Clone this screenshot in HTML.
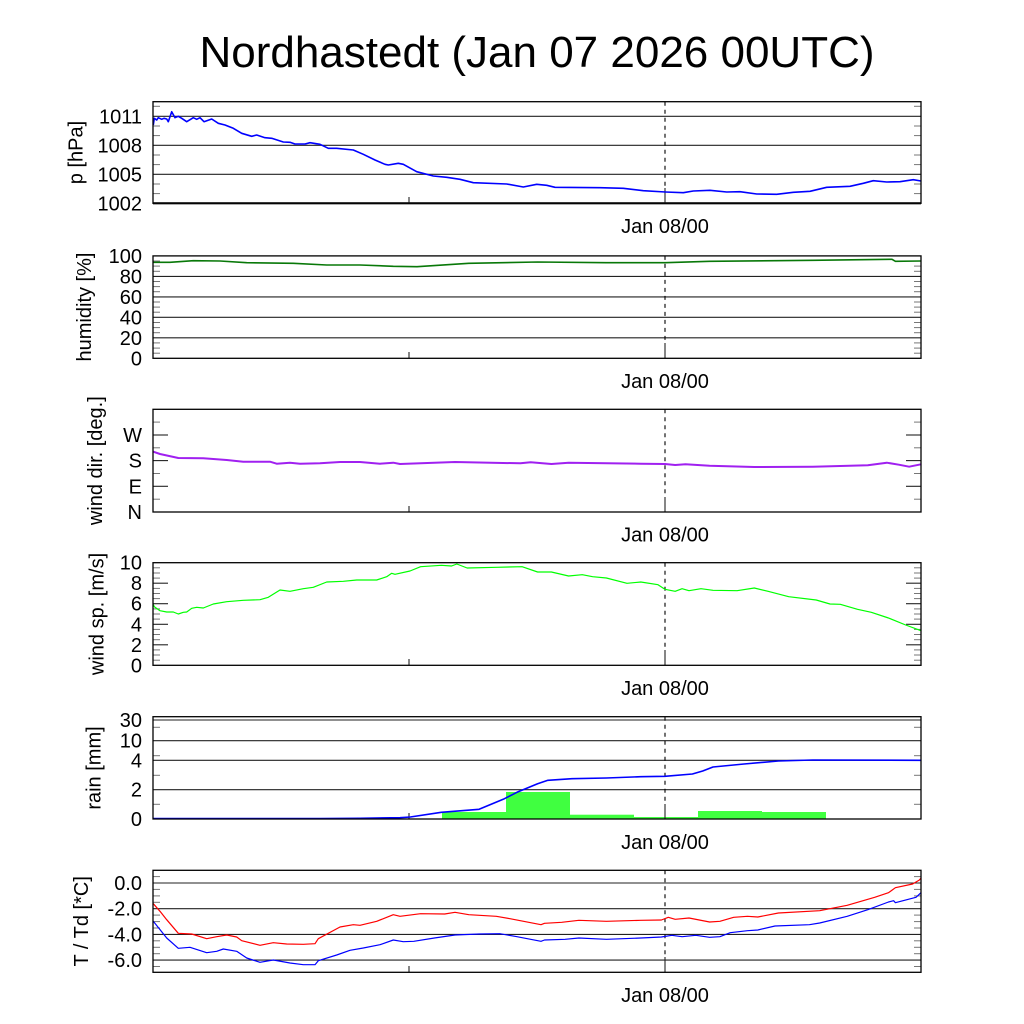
<!DOCTYPE html>
<html><head><meta charset="utf-8"><style>
html,body{margin:0;padding:0;background:#fff;}
svg{display:block;}
text{font-family:"Liberation Sans",Arial,sans-serif;fill:#000;}
.tl{font-size:20px;text-anchor:end;}
.yl{font-size:20px;text-anchor:middle;}
.dl{font-size:20px;text-anchor:middle;}
.bx{fill:none;stroke:#000;stroke-width:1.3;}
.gr{stroke:#222;stroke-width:1.1;}
.mj{stroke:#222;stroke-width:1.1;}
.mn{stroke:#777;stroke-width:1;}
.ds{stroke:#000;stroke-width:1.1;stroke-dasharray:4,4;}
.ln{fill:none;stroke-linejoin:round;}
</style></head><body>
<svg width="1024" height="1024" viewBox="0 0 1024 1024" xmlns="http://www.w3.org/2000/svg">
<rect width="1024" height="1024" fill="#fff"/>
<text x="537" y="67" style="font-size:44px;text-anchor:middle;">Nordhastedt (Jan 07 2026 00UTC)</text>

<!-- ===== Panel 1: pressure ===== -->
<g>
<line class="gr" x1="153" y1="174.3" x2="921" y2="174.3"/>
<line class="gr" x1="153" y1="145.3" x2="921" y2="145.3"/>
<line class="gr" x1="153" y1="116.3" x2="921" y2="116.3"/>
<line x1="153" y1="203.3" x2="921" y2="203.3" stroke="#555" stroke-width="2.5"/>
<g class="mn">
<line x1="153" y1="193.6" x2="160" y2="193.6"/><line x1="153" y1="184" x2="160" y2="184"/>
<line x1="153" y1="164.6" x2="160" y2="164.6"/><line x1="153" y1="155" x2="160" y2="155"/>
<line x1="153" y1="135.6" x2="160" y2="135.6"/><line x1="153" y1="126" x2="160" y2="126"/>
<line x1="153" y1="106.3" x2="160" y2="106.3"/>
<line x1="914" y1="193.6" x2="921" y2="193.6"/><line x1="914" y1="184" x2="921" y2="184"/>
<line x1="914" y1="164.6" x2="921" y2="164.6"/><line x1="914" y1="155" x2="921" y2="155"/>
<line x1="914" y1="135.6" x2="921" y2="135.6"/><line x1="914" y1="126" x2="921" y2="126"/>
<line x1="914" y1="106.3" x2="921" y2="106.3"/>
</g>
<line class="mj" x1="409" y1="203.3" x2="409" y2="197"/>
<line class="ds" x1="665" y1="101.7" x2="665" y2="188"/>
<line class="mj" x1="665" y1="188" x2="665" y2="203.3"/>
<polyline class="ln" stroke="#0000ff" stroke-width="1.6" points="153.3,125 154.3,118.3 156.7,120 158.3,117.7 161.7,119.3 164,118.3 166.7,119 168.3,121.7 171.7,111.7 175,117.7 178.3,116.3 181.7,118.3 186.7,121.7 193.3,117.7 196.7,119.3 200,117.7 204,121.7 211.7,119 218.3,123.3 225,125 233.3,128.3 241.7,133.3 251.7,136.3 256.7,135 265,137.7 271.7,138.3 283.3,142 290,142.3 295,144 305,144 310,142.7 320,144.3 328.3,148.3 336.7,148.3 353.3,150 363.3,154.3 375,160 385,164.3 388.3,165 398.3,163.3 403.3,164.3 416.7,171.7 433.3,176 446.7,177.3 460,179.3 473.3,182.7 506.7,184 523.3,187 536.7,184.3 546.7,185.3 555,187.3 600,187.7 623.3,188.3 643.3,190.7 665.3,192 683.3,192.7 693.3,191 710,190.3 726.7,192 740,191.7 756.7,194 776.7,194.3 793.3,192.3 810,191.3 826.7,187.3 850,186.3 863.3,183.3 873.3,180.7 886.7,182 900,181.7 913.3,179.7 921,181"/>
<rect class="bx" x="153" y="101.7" width="768" height="101.6"/>
<text class="tl" x="142" y="123.3">1011</text>
<text class="tl" x="142" y="152.3">1008</text>
<text class="tl" x="142" y="181.3">1005</text>
<text class="tl" x="142" y="210.3">1002</text>
<text class="yl" transform="translate(82.5,152.5) rotate(-90)">p [hPa]</text>
<text class="dl" x="665" y="233">Jan 08/00</text>
</g>

<!-- ===== Panel 2: humidity ===== -->
<g>
<line class="gr" x1="153" y1="276.4" x2="921" y2="276.4"/>
<line class="gr" x1="153" y1="296.9" x2="921" y2="296.9"/>
<line class="gr" x1="153" y1="317.3" x2="921" y2="317.3"/>
<line class="gr" x1="153" y1="337.8" x2="921" y2="337.8"/>
<g class="mn">
<line x1="153" y1="353.2" x2="160" y2="353.2"/><line x1="153" y1="348.1" x2="160" y2="348.1"/><line x1="153" y1="342.9" x2="160" y2="342.9"/>
<line x1="153" y1="332.7" x2="160" y2="332.7"/><line x1="153" y1="327.6" x2="160" y2="327.6"/><line x1="153" y1="322.5" x2="160" y2="322.5"/>
<line x1="153" y1="312.2" x2="160" y2="312.2"/><line x1="153" y1="307.1" x2="160" y2="307.1"/><line x1="153" y1="302" x2="160" y2="302"/>
<line x1="153" y1="291.7" x2="160" y2="291.7"/><line x1="153" y1="286.6" x2="160" y2="286.6"/><line x1="153" y1="281.5" x2="160" y2="281.5"/>
<line x1="153" y1="271.3" x2="160" y2="271.3"/><line x1="153" y1="266.1" x2="160" y2="266.1"/><line x1="153" y1="261" x2="160" y2="261"/>
<line x1="914" y1="353.2" x2="921" y2="353.2"/><line x1="914" y1="348.1" x2="921" y2="348.1"/><line x1="914" y1="342.9" x2="921" y2="342.9"/>
<line x1="914" y1="332.7" x2="921" y2="332.7"/><line x1="914" y1="327.6" x2="921" y2="327.6"/><line x1="914" y1="322.5" x2="921" y2="322.5"/>
<line x1="914" y1="312.2" x2="921" y2="312.2"/><line x1="914" y1="307.1" x2="921" y2="307.1"/><line x1="914" y1="302" x2="921" y2="302"/>
<line x1="914" y1="291.7" x2="921" y2="291.7"/><line x1="914" y1="286.6" x2="921" y2="286.6"/><line x1="914" y1="281.5" x2="921" y2="281.5"/>
<line x1="914" y1="271.3" x2="921" y2="271.3"/><line x1="914" y1="266.1" x2="921" y2="266.1"/><line x1="914" y1="261" x2="921" y2="261"/>
</g>
<line class="mj" x1="409" y1="358.3" x2="409" y2="352"/>
<line class="ds" x1="665" y1="255.9" x2="665" y2="343"/>
<line class="mj" x1="665" y1="343" x2="665" y2="358.3"/>
<polyline class="ln" stroke="#087808" stroke-width="1.6" points="153.3,262.3 170,262.3 193.3,260.7 220,261 246.7,262.7 293.3,263.3 326.7,265 360,265 393.3,266.3 417,266.7 468.8,263.3 537.6,262 606.4,262.7 665,262.7 709.6,261.3 812.8,260.3 892,259.3 895.4,261.3 921,261"/>
<rect class="bx" x="153" y="255.9" width="768" height="102.4"/>
<text class="tl" x="142" y="263">100</text>
<text class="tl" x="142" y="283.4">80</text>
<text class="tl" x="142" y="303.9">60</text>
<text class="tl" x="142" y="324.3">40</text>
<text class="tl" x="142" y="344.8">20</text>
<text class="tl" x="142" y="365.3">0</text>
<text class="yl" transform="translate(91,307) rotate(-90)">humidity [%]</text>
<text class="dl" x="665" y="388">Jan 08/00</text>
</g>

<!-- ===== Panel 3: wind direction ===== -->
<g>
<g class="mj">
<line x1="153" y1="486.3" x2="168" y2="486.3"/><line x1="153" y1="460.6" x2="168" y2="460.6"/><line x1="153" y1="435" x2="168" y2="435"/>
<line x1="906" y1="486.3" x2="921" y2="486.3"/><line x1="906" y1="460.6" x2="921" y2="460.6"/><line x1="906" y1="435" x2="921" y2="435"/>
</g>
<g class="mn">
<line x1="153" y1="499.2" x2="160" y2="499.2"/><line x1="153" y1="473.5" x2="160" y2="473.5"/><line x1="153" y1="447.8" x2="160" y2="447.8"/><line x1="153" y1="422.1" x2="160" y2="422.1"/>
<line x1="914" y1="499.2" x2="921" y2="499.2"/><line x1="914" y1="473.5" x2="921" y2="473.5"/><line x1="914" y1="447.8" x2="921" y2="447.8"/><line x1="914" y1="422.1" x2="921" y2="422.1"/>
</g>
<line class="mj" x1="409" y1="512" x2="409" y2="506"/>
<line class="ds" x1="665" y1="409.3" x2="665" y2="497"/>
<line class="mj" x1="665" y1="497" x2="665" y2="512"/>
<polyline class="ln" stroke="#a020f0" stroke-width="2" points="153.3,451.7 160,454 178.3,458 203.3,458.3 226.7,460 243.3,461.7 270,461.7 276.7,463.7 290,462.7 300,463.7 320,463.3 340,462 360,462 380,463.7 393.3,462.7 400,464 455,462 520.4,463.3 530.7,462.3 551.4,464 568.6,462.7 640.8,463.7 665,464 675.2,465 685.5,464.3 709.6,465.7 754.3,467 812.8,466.7 867.8,465.3 886.8,462.7 898.8,464.7 909.1,466.7 921,464.3"/>
<rect class="bx" x="153" y="409.3" width="768" height="102.7"/>
<text class="tl" x="142" y="442">W</text>
<text class="tl" x="142" y="467.6">S</text>
<text class="tl" x="142" y="493.3">E</text>
<text class="tl" x="142" y="519">N</text>
<text class="yl" transform="translate(102,460.7) rotate(-90)">wind dir. [deg.]</text>
<text class="dl" x="665" y="541.5">Jan 08/00</text>
</g>

<!-- ===== Panel 4: wind speed ===== -->
<g>
<g class="mj">
<line x1="153" y1="644.8" x2="168" y2="644.8"/><line x1="153" y1="624.3" x2="168" y2="624.3"/><line x1="153" y1="603.7" x2="168" y2="603.7"/><line x1="153" y1="583.2" x2="168" y2="583.2"/>
<line x1="906" y1="644.8" x2="921" y2="644.8"/><line x1="906" y1="624.3" x2="921" y2="624.3"/><line x1="906" y1="603.7" x2="921" y2="603.7"/><line x1="906" y1="583.2" x2="921" y2="583.2"/>
</g>
<g class="mn">
<line x1="153" y1="660.2" x2="160" y2="660.2"/><line x1="153" y1="655" x2="160" y2="655"/><line x1="153" y1="649.9" x2="160" y2="649.9"/>
<line x1="153" y1="639.7" x2="160" y2="639.7"/><line x1="153" y1="634.5" x2="160" y2="634.5"/><line x1="153" y1="629.4" x2="160" y2="629.4"/>
<line x1="153" y1="619.1" x2="160" y2="619.1"/><line x1="153" y1="614" x2="160" y2="614"/><line x1="153" y1="608.9" x2="160" y2="608.9"/>
<line x1="153" y1="598.6" x2="160" y2="598.6"/><line x1="153" y1="593.5" x2="160" y2="593.5"/><line x1="153" y1="588.4" x2="160" y2="588.4"/>
<line x1="153" y1="578.1" x2="160" y2="578.1"/><line x1="153" y1="573" x2="160" y2="573"/><line x1="153" y1="567.8" x2="160" y2="567.8"/>
<line x1="914" y1="660.2" x2="921" y2="660.2"/><line x1="914" y1="655" x2="921" y2="655"/><line x1="914" y1="649.9" x2="921" y2="649.9"/>
<line x1="914" y1="639.7" x2="921" y2="639.7"/><line x1="914" y1="634.5" x2="921" y2="634.5"/><line x1="914" y1="629.4" x2="921" y2="629.4"/>
<line x1="914" y1="619.1" x2="921" y2="619.1"/><line x1="914" y1="614" x2="921" y2="614"/><line x1="914" y1="608.9" x2="921" y2="608.9"/>
<line x1="914" y1="598.6" x2="921" y2="598.6"/><line x1="914" y1="593.5" x2="921" y2="593.5"/><line x1="914" y1="588.4" x2="921" y2="588.4"/>
<line x1="914" y1="578.1" x2="921" y2="578.1"/><line x1="914" y1="573" x2="921" y2="573"/><line x1="914" y1="567.8" x2="921" y2="567.8"/>
</g>
<line class="mj" x1="409" y1="665.3" x2="409" y2="659"/>
<line class="ds" x1="665" y1="562.7" x2="665" y2="650"/>
<line class="mj" x1="665" y1="650" x2="665" y2="665.3"/>
<polyline class="ln" stroke="#00ff00" stroke-width="1.2" points="153.3,604.5 154.3,606.7 160,610.7 166.7,612 173.3,612 178.3,614 183.3,612.3 186.7,612 191.7,608.3 196.7,607.3 203.3,608 213.3,604 226.7,601.7 243.3,600.3 260,599.7 268.3,597.3 280,590 290,591.3 303.3,588.7 313.3,587.3 326.7,582 343.3,581.3 356.7,580 376.7,580 386.7,576.7 391.7,573.3 395,574.3 410,571 420.6,566.7 441.3,565.3 451.6,566 456.8,564 467.1,568 496.3,567.3 522.1,566.7 537.6,572 551.4,572 568.6,576 582.3,574.7 592.6,576.7 606.4,578 627,583.3 640.8,582 658,584.7 664.9,589.3 675.2,591.3 682.1,588.7 689,590.7 701,588.7 713,590.3 737.1,590.7 754.3,588 768.1,591.3 788.7,596.7 816.2,600 830,604 840.3,604.3 857.5,609.3 871.3,612.3 888.5,618 905.7,625 921,630.7"/>
<rect class="bx" x="153" y="562.7" width="768" height="102.6"/>
<text class="tl" x="142" y="569.7">10</text>
<text class="tl" x="142" y="590.2">8</text>
<text class="tl" x="142" y="610.7">6</text>
<text class="tl" x="142" y="631.3">4</text>
<text class="tl" x="142" y="651.8">2</text>
<text class="tl" x="142" y="672.3">0</text>
<text class="yl" transform="translate(103.5,614) rotate(-90)">wind sp. [m/s]</text>
<text class="dl" x="665" y="695">Jan 08/00</text>
</g>

<!-- ===== Panel 5: rain ===== -->
<g>
<line class="gr" x1="153" y1="720" x2="921" y2="720"/>
<line class="gr" x1="153" y1="740.7" x2="921" y2="740.7"/>
<line class="gr" x1="153" y1="760.3" x2="921" y2="760.3"/>
<line class="gr" x1="153" y1="789.7" x2="921" y2="789.7"/>
<g class="mn">
<line x1="153" y1="727.3" x2="160" y2="727.3"/><line x1="153" y1="755.7" x2="160" y2="755.7"/><line x1="153" y1="775.3" x2="160" y2="775.3"/><line x1="153" y1="804.3" x2="160" y2="804.3"/>
<line x1="914" y1="727.3" x2="921" y2="727.3"/><line x1="914" y1="755.7" x2="921" y2="755.7"/><line x1="914" y1="775.3" x2="921" y2="775.3"/><line x1="914" y1="804.3" x2="921" y2="804.3"/>
</g>
<g fill="#40ff40">
<rect x="442" y="812" width="64" height="7"/>
<rect x="506" y="792" width="64" height="27"/>
<rect x="570" y="814.7" width="64" height="4.3"/>
<rect x="634" y="817" width="64" height="2"/>
<rect x="698" y="811" width="64" height="8"/>
<rect x="762" y="812" width="64" height="7"/>
</g>
<line class="mj" x1="409" y1="819" x2="409" y2="813"/>
<line class="ds" x1="665" y1="716.7" x2="665" y2="804"/>
<line class="mj" x1="665" y1="804" x2="665" y2="819"/>
<polyline class="ln" stroke="#0000ff" stroke-width="1.6" points="153,818.6 320,818.6 360,818.3 400,817.7 410.3,817 441.3,812.3 479.1,809.3 503.2,799.3 517,792.3 537.6,783.7 547.9,780.3 572,778.7 606.4,778 640.8,776.7 664.9,776.3 692.4,774 702.7,771 713,767 744,764 778.4,761 812.8,760 921,760.3"/>
<rect class="bx" x="153" y="716.7" width="768" height="102.3"/>
<text class="tl" x="142" y="727">30</text>
<text class="tl" x="142" y="747.7">10</text>
<text class="tl" x="142" y="767.3">4</text>
<text class="tl" x="142" y="796.7">2</text>
<text class="tl" x="142" y="826">0</text>
<text class="yl" transform="translate(100.5,768) rotate(-90)">rain [mm]</text>
<text class="dl" x="665" y="849">Jan 08/00</text>
</g>

<!-- ===== Panel 6: temperature ===== -->
<g>
<line class="gr" x1="153" y1="883" x2="921" y2="883"/>
<line class="gr" x1="153" y1="908.7" x2="921" y2="908.7"/>
<line class="gr" x1="153" y1="934.4" x2="921" y2="934.4"/>
<line class="gr" x1="153" y1="960.1" x2="921" y2="960.1"/>
<g class="mn">
<line x1="153" y1="876.6" x2="160" y2="876.6"/><line x1="153" y1="889.4" x2="160" y2="889.4"/><line x1="153" y1="895.9" x2="160" y2="895.9"/><line x1="153" y1="902.3" x2="160" y2="902.3"/>
<line x1="153" y1="915.1" x2="160" y2="915.1"/><line x1="153" y1="921.6" x2="160" y2="921.6"/><line x1="153" y1="928" x2="160" y2="928"/>
<line x1="153" y1="940.8" x2="160" y2="940.8"/><line x1="153" y1="947.3" x2="160" y2="947.3"/><line x1="153" y1="953.7" x2="160" y2="953.7"/><line x1="153" y1="966.5" x2="160" y2="966.5"/>
<line x1="914" y1="876.6" x2="921" y2="876.6"/><line x1="914" y1="889.4" x2="921" y2="889.4"/><line x1="914" y1="895.9" x2="921" y2="895.9"/><line x1="914" y1="902.3" x2="921" y2="902.3"/>
<line x1="914" y1="915.1" x2="921" y2="915.1"/><line x1="914" y1="921.6" x2="921" y2="921.6"/><line x1="914" y1="928" x2="921" y2="928"/>
<line x1="914" y1="940.8" x2="921" y2="940.8"/><line x1="914" y1="947.3" x2="921" y2="947.3"/><line x1="914" y1="953.7" x2="921" y2="953.7"/><line x1="914" y1="966.5" x2="921" y2="966.5"/>
</g>
<line class="mj" x1="409" y1="972.3" x2="409" y2="966"/>
<line class="ds" x1="665" y1="870.3" x2="665" y2="957"/>
<line class="mj" x1="665" y1="957" x2="665" y2="972.3"/>
<polyline class="ln" stroke="#ff0000" stroke-width="1.2" points="153.3,903.7 160,911.3 166.7,919.7 178.3,933.3 191.7,934 206.7,938.7 216.7,936.7 226.7,935 236.7,937 241.7,940.7 260,945.3 273.3,942.7 286.7,944 303.3,944.3 315,943.7 318.3,938.7 340,927 353.3,924.7 360,925.3 376.7,921.3 393.3,914.7 400,916.3 420.6,913.7 444.7,914 455,912.3 468.8,914.7 496.3,916.3 510,918.7 541,924.7 544.5,923.3 561.7,922.3 578.9,920.3 606.4,921.3 640.8,920.3 661.4,920 668.3,917.3 675.2,919.3 689,918 709.6,922 719.9,921.3 733.7,917.3 747.4,916.3 757.8,917 778.4,913 819.7,910.7 847.2,905.3 874.7,897.3 888.5,892.7 895.4,887.7 912.6,884 919.4,880 921,878"/>
<polyline class="ln" stroke="#0000ff" stroke-width="1.2" points="153.3,921.3 166.7,938 178.3,948.3 190,947.3 206.7,952.7 216.7,951.3 223.3,949 236.7,951.3 246.7,958 260,962.3 273.3,960 290,963 303.3,964.7 315,964.7 318.3,960.7 336.7,955 350,950.3 363.3,948 380,944.7 393.3,940 403.3,941.7 413.8,941.3 434.4,938 455,935 479.1,934 499.8,933.7 517,936.7 541,941.3 544.5,940 565.1,939.3 578.9,938 606.4,939.3 640.8,938 661.4,937 671.8,935.3 682.1,936.7 695.8,935.3 709.6,937.3 719.9,936.7 730.2,932.7 747.4,930.7 757.8,930 775,926 809.4,924.7 819.7,923 847.2,916.3 867.8,909.7 888.5,902 893.6,900.7 895.4,902.7 916,897.3 921,892.7"/>
<rect class="bx" x="153" y="870.3" width="768" height="102"/>
<text class="tl" x="142" y="890">0.0</text>
<text class="tl" x="142" y="915.7">-2.0</text>
<text class="tl" x="142" y="941.4">-4.0</text>
<text class="tl" x="142" y="967.1">-6.0</text>
<text class="yl" transform="translate(88,921.3) rotate(-90)">T / Td [*C]</text>
<text class="dl" x="665" y="1002">Jan 08/00</text>
</g>
</svg>
</body></html>
